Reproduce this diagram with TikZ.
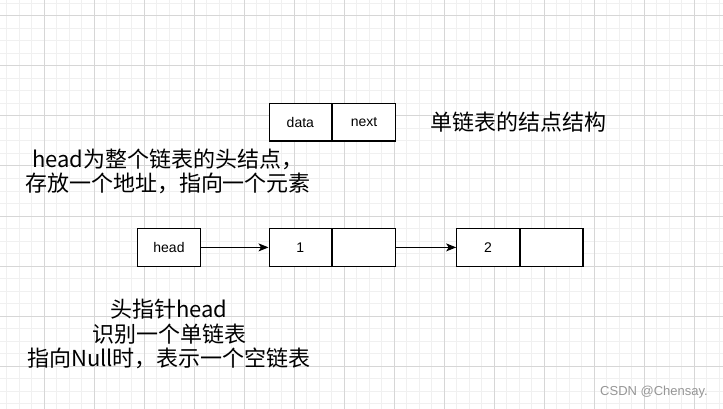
\documentclass[tikz,border=0pt]{standalone}
\usepackage{fontspec}
\setmainfont{Liberation Sans}
\newfontfamily\cjk{Noto Sans CJK SC}
\usetikzlibrary{arrows.meta}
\definecolor{minorc}{RGB}{240,240,240}
\definecolor{majorc}{RGB}{214,214,214}
\definecolor{wmark}{RGB}{150,150,150}
\begin{document}
\begin{tikzpicture}[x=1pt,y=-1pt,
  minorgrid/.style={draw=minorc, line width=1pt},
  majorgrid/.style={draw=majorc, line width=1pt},
  cell/.style={draw, line width=1.2pt, minimum width=62.5pt, minimum height=37.5pt, inner sep=0pt, font=\fontsize{14}{16}\selectfont},
  link/.style={line width=1.2pt, -{Stealth[length=10pt,width=8pt,inset=2.5pt]}},
  note/.style={align=center, inner sep=0pt, font=\cjk\fontsize{22}{24.5}\selectfont},
  wm/.style={text=wmark, inner sep=0pt, font=\fontsize{13}{15}\selectfont}]
\useasboundingbox (0,0) rectangle (723,409);
\fill[white] (0,0) rectangle (723,409);
\foreach \x in {6.8,19.3,...,723} \draw[minorgrid] (\x,0) -- (\x,409);
\foreach \y in {3.5,16,...,409} \draw[minorgrid] (0,\y) -- (723,\y);
\foreach \x in {44.3,94.3,...,723} \draw[majorgrid] (\x,0) -- (\x,409);
\foreach \y in {16,66,...,409} \draw[majorgrid] (0,\y) -- (723,\y);

% node structure
\node[cell, fill=white] (data) at (300.35,122.2) {data};
\node[cell, fill=white, anchor=west] (next) at (data.east) {next};
\node[note, anchor=west] (structlbl) at (430,122) {单链表的结点结构};

% text blocks
\node[note] (headnote) at (168,171.5) {head为整个链表的头结点，\\存放一个地址，指向一个元素};
\node[note] (ptrnote) at (169,334) {头指针head\\识别一个单链表\\指向Null时，表示一个空链表};

% list
\node[cell, fill=white] (head) at (169,247.4) {head};
\node[cell, fill=white] (n1a) at (300.35,247.4) {1};
\node[cell, fill=white, anchor=west] (n1b) at (n1a.east) {};
\node[cell, fill=white] (n2a) at (488,247.4) {2};
\node[cell, fill=white, anchor=west] (n2b) at (n2a.east) {};
\draw[link] (head) -- (n1a);
\draw[link] (n1b) -- (n2a);

\node[wm] (mark) at (654,392) {CSDN @Chensay.};
\end{tikzpicture}
\end{document}
